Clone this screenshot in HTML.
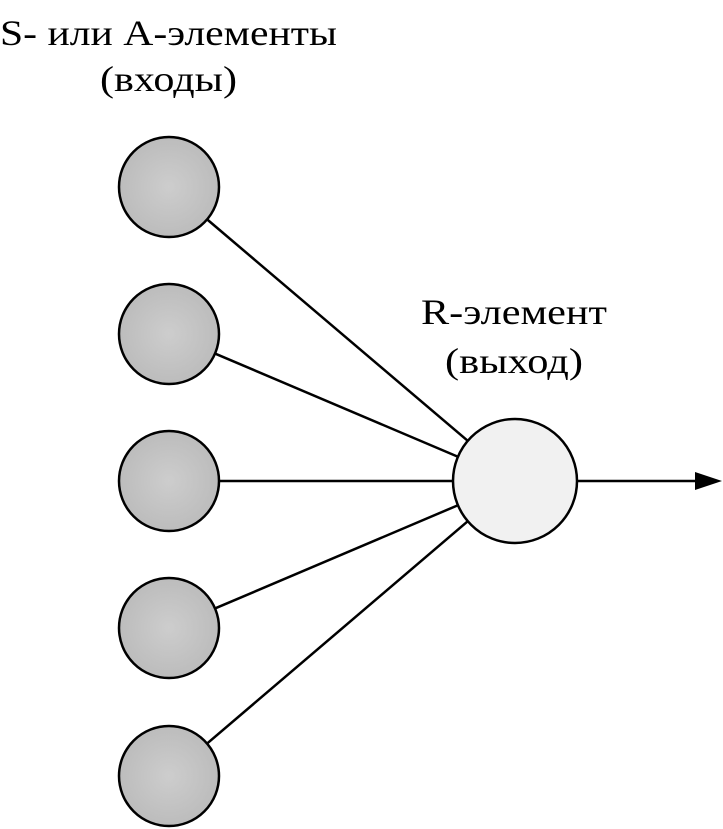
<!DOCTYPE html>
<html><head><meta charset="utf-8"><style>
html,body{margin:0;padding:0;background:#fff;}
svg{display:block;}
text{font-family:"Liberation Serif","DejaVu Serif",serif;fill:#000;}
</style></head><body>
<svg id="d" width="723" height="829" viewBox="0 0 723 829">
<defs>
<radialGradient id="gin" cx="0.5" cy="0.5" r="0.5"><stop offset="0" stop-color="#cdcdcd"/><stop offset="1" stop-color="#bcbcbc"/></radialGradient>
</defs>
<text x="0" y="45" font-size="36" textLength="337" lengthAdjust="spacingAndGlyphs">S- или A-элементы</text>
<text x="100" y="91" font-size="36" textLength="137" lengthAdjust="spacingAndGlyphs">(входы)</text>
<text x="421" y="324" font-size="36" textLength="186" lengthAdjust="spacingAndGlyphs">R-элемент</text>
<text x="445" y="373" font-size="36" textLength="138" lengthAdjust="spacingAndGlyphs">(выход)</text>
<g id="links"></g>
<g id="nodes"></g>
</svg>
<script>
const inputY = [187, 334, 481, 628, 776];
const inputX = 169, inputR = 50;
const outX = 515, outY = 481, outR = 62;
const NS = "http://www.w3.org/2000/svg";
const links = document.getElementById('links'), nodes = document.getElementById('nodes');
inputY.forEach((y, i) => {
  const dx = outX - inputX, dy = outY - y, L = Math.hypot(dx, dy);
  const ln = document.createElementNS(NS, 'line');
  ln.setAttribute('x1', inputX + dx / L * inputR); ln.setAttribute('y1', y + dy / L * inputR);
  ln.setAttribute('x2', outX - dx / L * outR); ln.setAttribute('y2', outY - dy / L * outR);
  ln.setAttribute('stroke', '#000'); ln.setAttribute('stroke-width', '2.5');
  
  
  links.appendChild(ln);
  const c = document.createElementNS(NS, 'circle');
  c.setAttribute('cx', inputX); c.setAttribute('cy', y); c.setAttribute('r', inputR);
  c.setAttribute('fill', 'url(#gin)'); c.setAttribute('stroke', '#000'); c.setAttribute('stroke-width', '2.5');
  
  
  nodes.appendChild(c);
});
const oc = document.createElementNS(NS, 'circle');
oc.setAttribute('cx', outX); oc.setAttribute('cy', outY); oc.setAttribute('r', outR);
oc.setAttribute('fill', '#f1f1f1'); oc.setAttribute('stroke', '#000'); oc.setAttribute('stroke-width', '2.5');


nodes.appendChild(oc);
const al = document.createElementNS(NS, 'line');
al.setAttribute('x1', outX + outR); al.setAttribute('y1', outY); al.setAttribute('x2', 697); al.setAttribute('y2', outY);
al.setAttribute('stroke', '#000'); al.setAttribute('stroke-width', '2.5');


nodes.appendChild(al);
const ah = document.createElementNS(NS, 'polygon');
ah.setAttribute('points', `695,${outY - 9} 722,${outY} 695,${outY + 9}`);
ah.setAttribute('fill', '#000');


nodes.appendChild(ah);
</script>
</body></html>
